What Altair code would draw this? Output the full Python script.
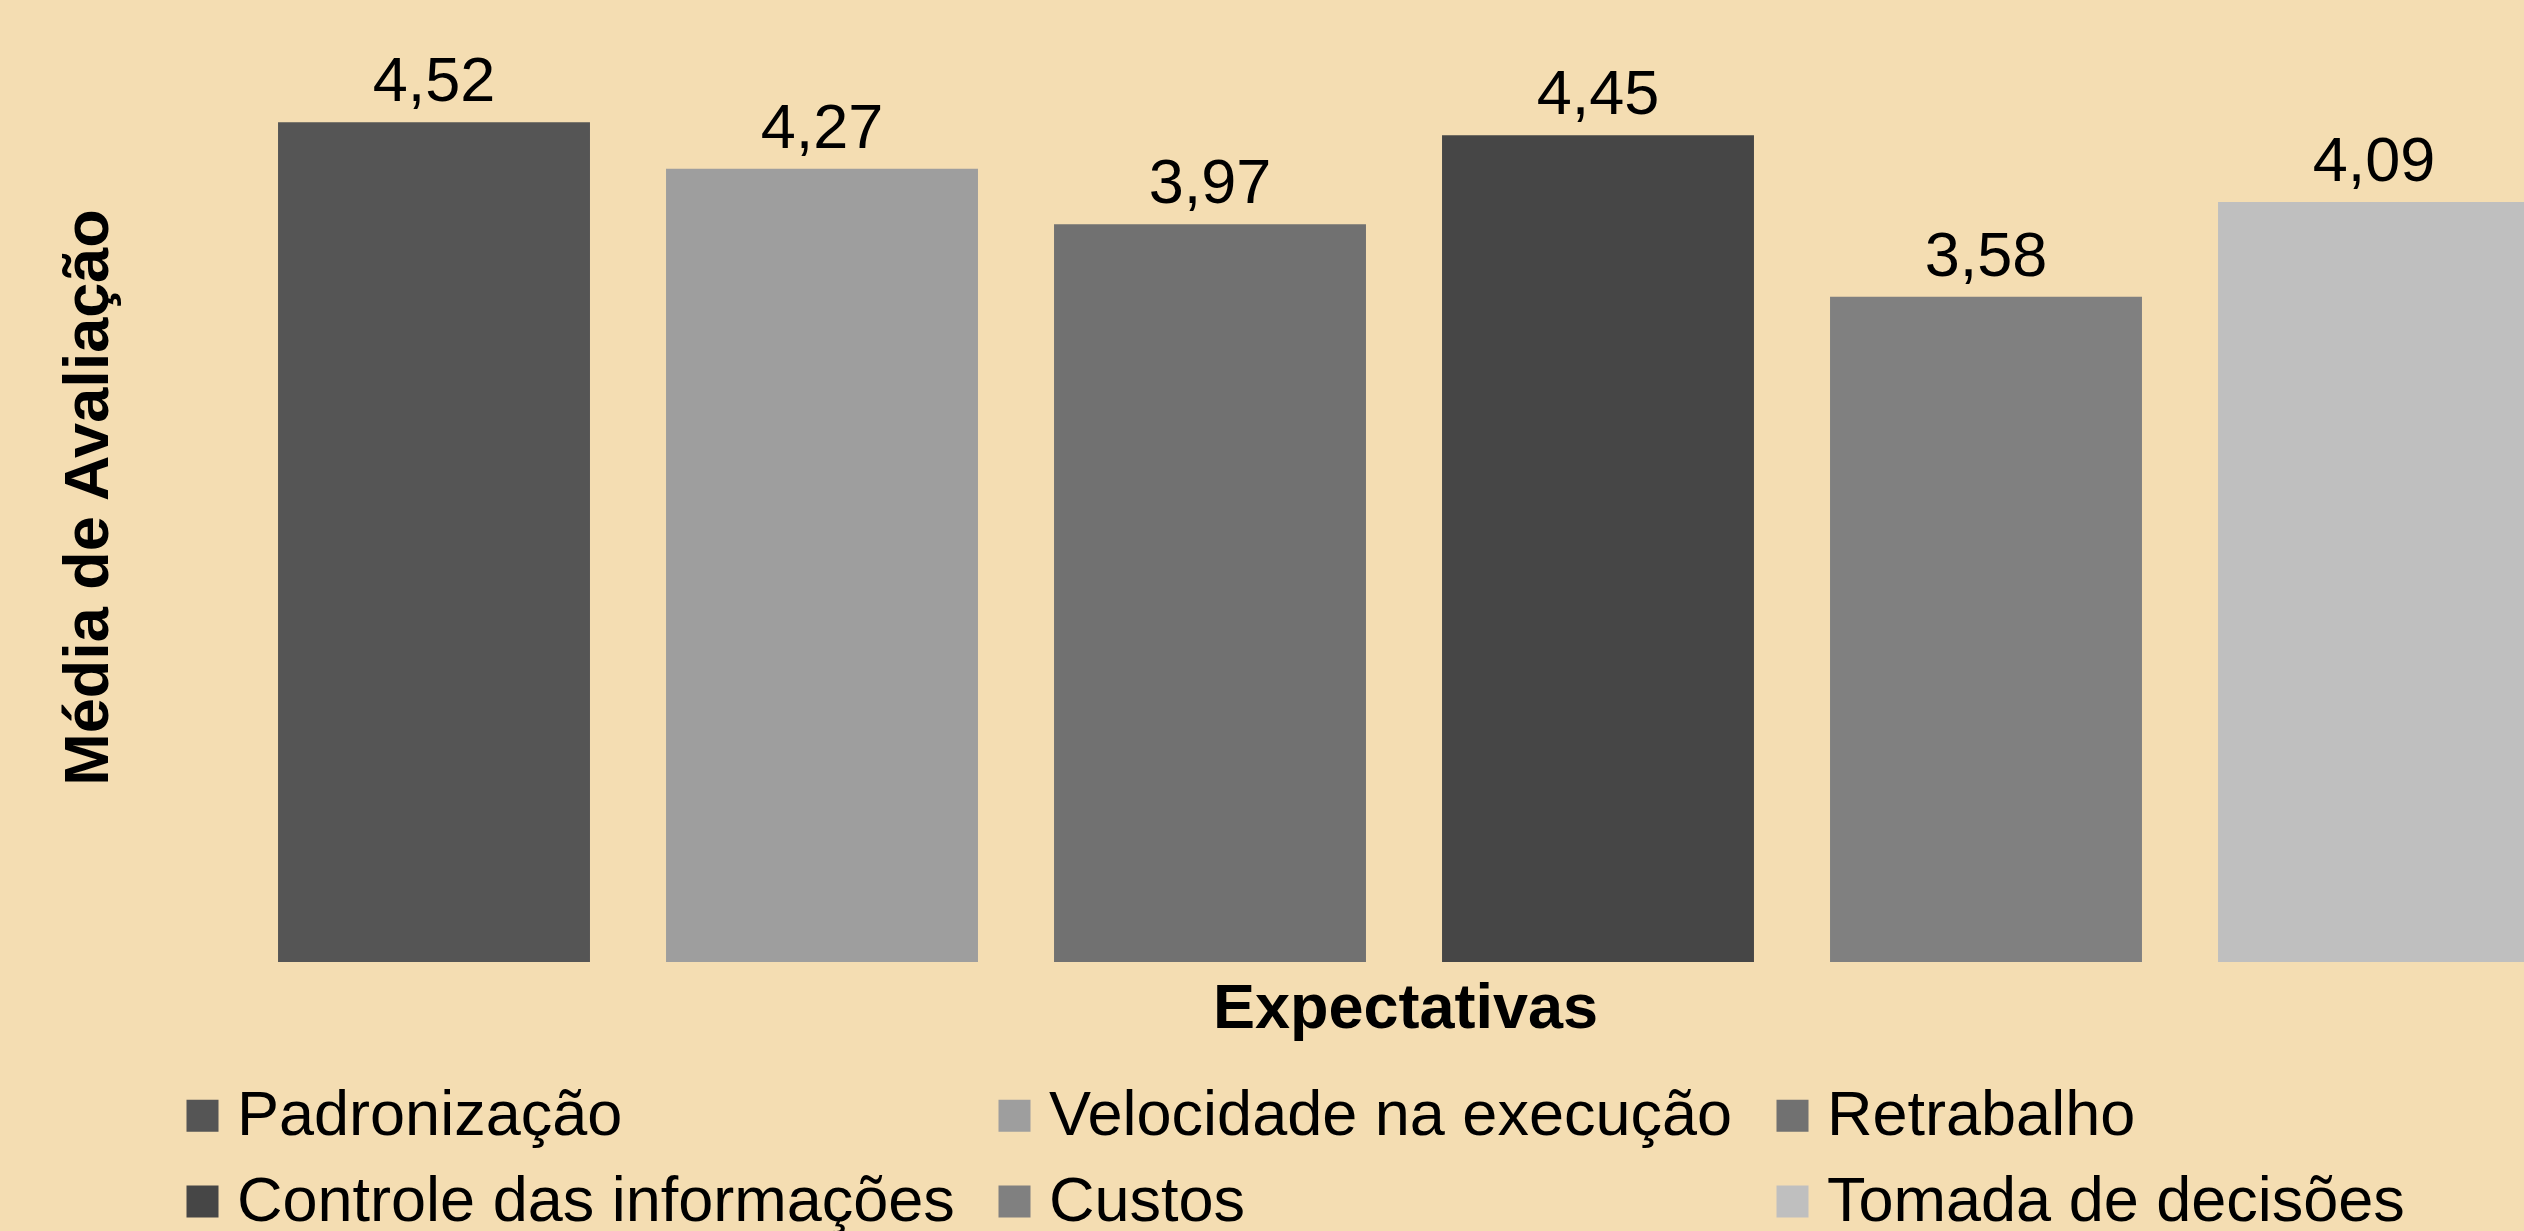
import altair as alt
import pandas as pd

categorias = ["Padronização", "Velocidade na execução", "Retrabalho",
              "Controle das informações", "Custos", "Tomada de decisões"]
medias = [4.52, 4.27, 3.97, 4.45, 3.58, 4.09]
cores = ["#555555", "#9e9e9e", "#717171", "#464646", "#808080", "#bfbfbf"]

df = pd.DataFrame({
    "Expectativa": categorias,
    "Media": medias,
    "Rotulo": [f"{v:.2f}".replace(".", ",") for v in medias],
})

FONT = "Liberation Sans"

x = alt.X("Expectativa:N", sort=categorias,
          scale=alt.Scale(paddingInner=0.196, paddingOuter=0.098, rangeMax=2328),
          axis=alt.Axis(title="Expectativas", labels=False, ticks=False, domain=False,
                        titleFontSize=63, titleFont=FONT, titleFontWeight="bold",
                        titleColor="black", titleX=1165, titleY=65,
                        titleAlign="center", titleBaseline="alphabetic"))
y = alt.Y("Media:Q", scale=alt.Scale(domain=[0, 5], nice=False),
          axis=alt.Axis(title="Média de Avaliação", labels=False, ticks=False, domain=False,
                        grid=False, titleFontSize=63, titleFont=FONT, titleFontWeight="bold",
                        titleColor="black", titleX=-152, titleY=464, titleAngle=270,
                        titleAlign="center", titleBaseline="middle"))

bars = alt.Chart(df).mark_bar().encode(
    x=x, y=y,
    color=alt.Color("Expectativa:N", sort=categorias,
                    scale=alt.Scale(domain=categorias, range=cores),
                    legend=alt.Legend(title=None, orient="none", legendX=-69, legendY=1051,
                                      direction="horizontal",
                                      columns=3, symbolType="square", symbolSize=1024,
                                      symbolStrokeWidth=0, labelFontSize=63, labelFont=FONT,
                                      labelColor="black", labelOffset=3, columnPadding=28,
                                      rowPadding=22, labelLimit=2000, symbolOpacity=1)),
)

labels = alt.Chart(df).mark_text(font=FONT, fontSize=63, color="black",
                                 baseline="alphabetic", dy=-21).encode(
    x=alt.X("Expectativa:N", sort=categorias), y="Media:Q", text="Rotulo:N")

chart = (bars + labels).properties(
    width=2284, height=929,
    padding={"left": 240, "top": 33, "right": 0, "bottom": 269},
    autosize=alt.AutoSizeParams(type="none"),
    background="#f4ddb2",
).configure_view(stroke=None)

chart.save("out.html", embed_options={"renderer": "svg", "actions": False})
